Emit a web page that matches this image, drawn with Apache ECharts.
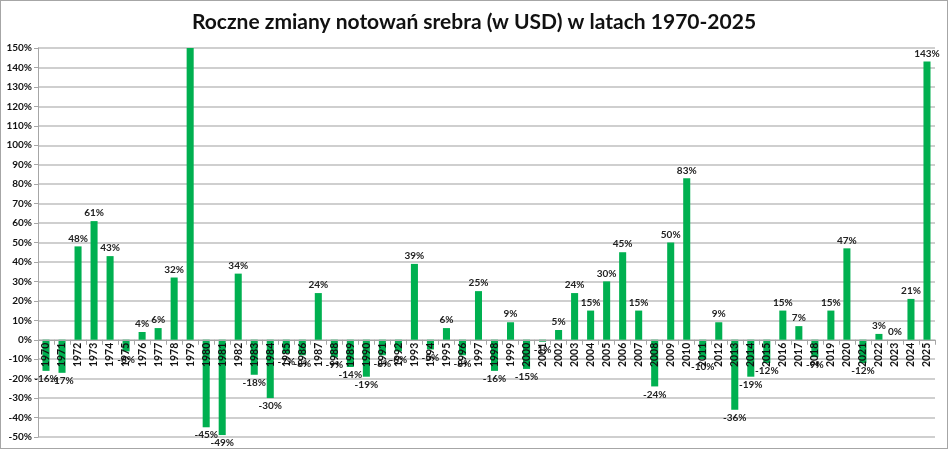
<!DOCTYPE html>
<html>
<head>
<meta charset="utf-8">
<script src="https://cdn.jsdelivr.net/npm/echarts@6/dist/echarts.min.js"></script>
<style>
  html, body { margin: 0; padding: 0; background: #fff; }
  #chart { width: 946px; height: 447px; border: 1px solid #a6a6a6; }
</style>
</head>
<body>
<div id="chart"></div>
<script>
	// lata
	var years = ['1970','1971','1972','1973','1974','1975','1976','1977','1978','1979',
		'1980','1981','1982','1983','1984','1985','1986','1987','1988','1989',
		'1990','1991','1992','1993','1994','1995','1996','1997','1998','1999',
		'2000','2001','2002','2003','2004','2005','2006','2007','2008','2009',
		'2010','2011','2012','2013','2014','2015','2016','2017','2018','2019',
		'2020','2021','2022','2023','2024','2025'];
	// roczna zmiana w % (1979 wychodzi poza skale, bez etykiety)
	var changes = [-16, -17, 48, 61, 43, -6, 4, 6, 32, 150,
		-45, -49, 34, -18, -30, -7, -8, 24, -9, -14,
		-19, -8, -6, 39, -5, 6, -8, 25, -16, 9,
		-15, -1, 5, 24, 15, 30, 45, 15, -24, 50,
		83, -10, 9, -36, -19, -12, 15, 7, -9, 15,
		47, -12, 3, 0, 21, 143];
	var hiddenLabels = ['1979'];
	var yMin = -50, yMax = 150;

	var myChart = echarts.init(document.getElementById('chart'));
	var gridTop = 47, gridBottom = 11;
	// os X na poziomie 0%
	var plotH = myChart.getHeight() - gridTop - gridBottom;
	var zeroOffset = -plotH * (0 - yMin) / (yMax - yMin);

	var barData = [];
	for (var i = 0; i < changes.length; i++) {
		var item = { value: changes[i] };
		if (hiddenLabels.indexOf(years[i]) >= 0) {
			item.label = { show: false };
		} else if (changes[i] < 0) {
			item.label = { position: 'bottom' };
		}
		barData.push(item);
	}

	var option = {
		animation: false,
		title: {
			text: 'Roczne zmiany notowań srebra (w USD) w latach 1970-2025',
			left: 'center',
			top: 6,
			textStyle: { fontFamily: 'Lato', fontSize: 21, fontWeight: 'bold', color: '#111' }
		},
		grid: { left: 37, right: 12, top: gridTop, bottom: gridBottom, containLabel: false, outerBoundsMode: 'none' },
		xAxis: {
			type: 'category',
			data: years,
			z: 5,
			offset: zeroOffset,
			axisLine: { onZero: false, lineStyle: { color: '#a6a6a6', width: 1 } },
			axisTick: { show: true, length: 5, lineStyle: { color: '#a6a6a6' } },
			axisLabel: {
				rotate: 90,
				interval: 0,
				margin: 3,
				fontFamily: 'Lato',
				fontWeight: 'bold',
				fontSize: 10.5,
				color: '#111'
			}
		},
		yAxis: {
			type: 'value',
			min: yMin,
			max: yMax,
			interval: 10,
			axisLine: { show: true, lineStyle: { color: '#a6a6a6' } },
			axisTick: { show: true, length: 4, lineStyle: { color: '#a6a6a6' } },
			splitLine: { lineStyle: { color: '#bfbfbf', width: 1.5 } },
			axisLabel: {
				formatter: '{value}%',
				margin: 6,
				fontFamily: 'Lato',
				fontWeight: 'bold',
				fontSize: 10,
				color: '#111'
			}
		},
		series: [{
			type: 'bar',
			data: barData,
			barWidth: '44%',
			itemStyle: { color: '#00b050' },
			label: {
				show: true,
				position: 'top',
				distance: 3,
				formatter: '{c}%',
				fontFamily: 'Lato',
				fontWeight: 'bold',
				fontSize: 10,
				color: '#222'
			}
		}]
	};
	myChart.setOption(option);
</script>
</body>
</html>
